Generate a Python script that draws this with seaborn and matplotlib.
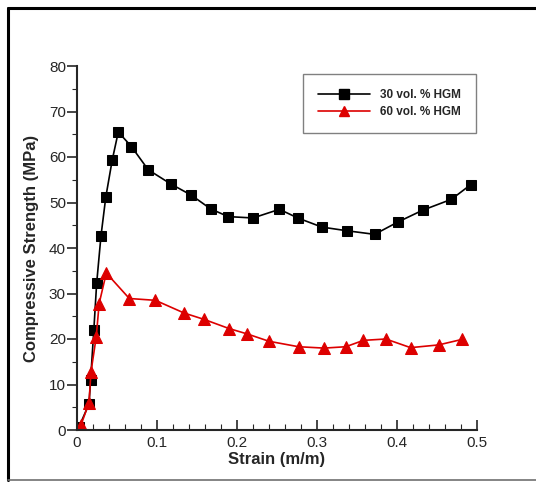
import numpy as np
import pandas as pd
import seaborn as sns
import matplotlib.pyplot as plt
from matplotlib.ticker import MultipleLocator
from matplotlib.lines import Line2D

# date
strain_30 = [0.0025, 0.015, 0.017, 0.021, 0.0246, 0.030, 0.036, 0.044, 0.0516, 0.068,
             0.089, 0.117, 0.143, 0.167, 0.189, 0.220, 0.253, 0.276, 0.306, 0.337,
             0.372, 0.401, 0.432, 0.468, 0.492]
stress_30 = [0.7, 5.7, 11.0, 21.9, 32.3, 42.7, 51.2, 59.3, 65.5, 62.3,
             57.2, 54.1, 51.6, 48.6, 46.9, 46.6, 48.5, 46.6, 44.6, 43.8,
             43.0, 45.7, 48.3, 50.7, 53.9]

strain_60 = [0.005, 0.015, 0.0175, 0.024, 0.0277, 0.0366, 0.0654, 0.098, 0.134, 0.159,
             0.190, 0.213, 0.240, 0.277, 0.309, 0.336, 0.358, 0.386, 0.417, 0.452, 0.481]
stress_60 = [1.1, 6.0, 12.8, 20.4, 27.8, 34.5, 28.9, 28.5, 25.7, 24.3,
             22.3, 21.1, 19.5, 18.3, 18.0, 18.3, 19.7, 20.0, 18.1, 18.7, 19.9]

labels = ["30 vol. % HGM", "60 vol. % HGM"]
xtick_labels = ['0', '0.1', '0.2', '0.3', '0.4', '0.5']

sns.set_style("ticks")
plt.rcParams['font.family'] = ['Liberation Sans', 'DejaVu Sans']

fig = plt.figure(figsize=(5.36, 4.82), dpi=100)
ax = fig.add_axes([77 / 536, (482 - 430) / 482, 400 / 536, 364 / 482])

sns.lineplot(x=strain_30, y=stress_30, ax=ax, color='black', marker='s', markersize=7,
             markeredgecolor='black', linewidth=1.2, sort=False)
sns.lineplot(x=strain_60, y=stress_60, ax=ax, color='#dd0000', marker='^', markersize=8.5,
             markeredgecolor='#dd0000', linewidth=1.2, sort=False)

ax.set_xlim(0, 0.5)
ax.set_ylim(0, 80)
ax.set_xticks(np.arange(0, 0.51, 0.1))
ax.set_xticklabels(xtick_labels)
ax.xaxis.set_minor_locator(MultipleLocator(0.02))
ax.yaxis.set_major_locator(MultipleLocator(10))
ax.yaxis.set_minor_locator(MultipleLocator(5))

# x ticks spre interior, y ticks spre exterior
ax.tick_params(axis='x', which='major', direction='in', length=7, width=1.2, labelsize=11, pad=4)
ax.tick_params(axis='x', which='minor', direction='in', length=4, width=0.8)
ax.tick_params(axis='y', which='major', direction='out', length=7, width=1.2, labelsize=11, pad=1)
ax.tick_params(axis='y', which='minor', direction='out', length=3.5, width=0.8)

for s in ['top', 'right']:
    ax.spines[s].set_visible(False)
for s in ['left', 'bottom']:
    ax.spines[s].set_linewidth(1.5)

ax.set_xlabel('Strain (m/m)', fontsize=12, fontweight='bold', labelpad=2)
ax.set_ylabel('Compressive Strength (MPa)', fontsize=12, fontweight='bold', labelpad=7)

handles = [Line2D([], [], color='black', marker='s', markersize=7, lw=1.2),
           Line2D([], [], color='#dd0000', marker='^', markersize=7.5, lw=1.2)]
leg = ax.legend(handles, labels, loc='upper right', bbox_to_anchor=(0.9975, 0.978),
                fancybox=False, edgecolor='#808080', framealpha=1,
                prop={'size': 8.5, 'weight': 'bold'}, handlelength=4.4,
                borderpad=1.3, labelspacing=0.4, handletextpad=0.8, borderaxespad=0)
leg.get_frame().set_linewidth(1.0)

# chenarul imaginii
fig.add_artist(Line2D([8 / 536, 8 / 536], [2 / 482, 474 / 482], transform=fig.transFigure,
                      color='black', lw=2.2))
fig.add_artist(Line2D([8 / 536, 1], [474 / 482, 474 / 482], transform=fig.transFigure,
                      color='black', lw=2.2))
fig.add_artist(Line2D([8 / 536, 1], [2 / 482, 2 / 482], transform=fig.transFigure,
                      color='#707070', lw=1.2))

fig.savefig('out.png', dpi=100)
